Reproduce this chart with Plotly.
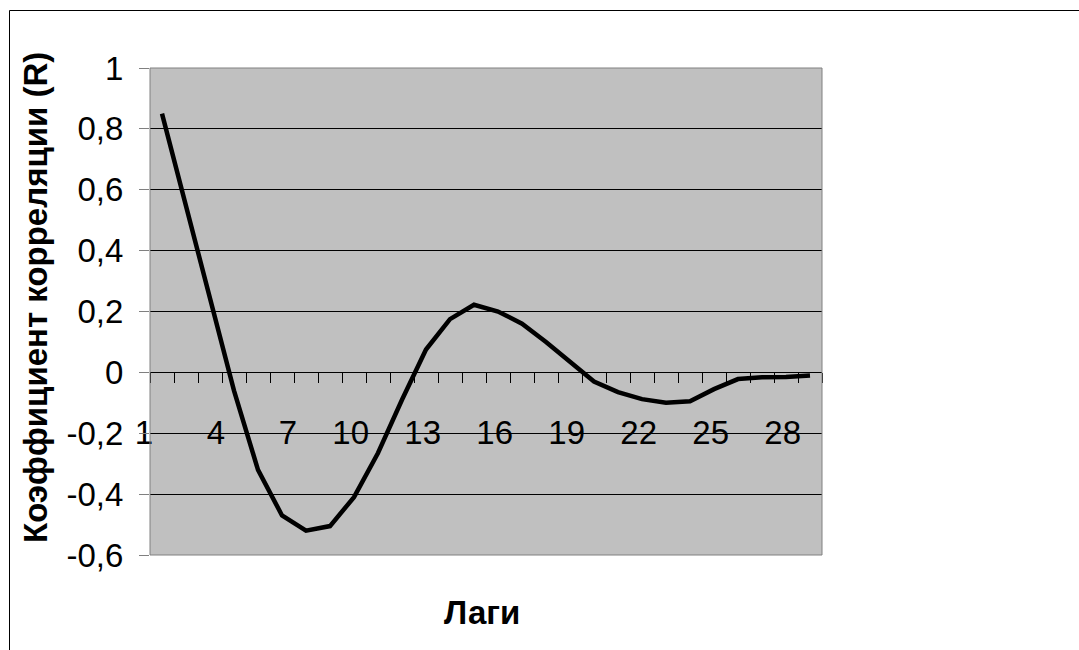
import plotly.graph_objects as go

# Data
lags = list(range(1, 29))
r_values = [0.85, 0.55, 0.25, -0.06, -0.32, -0.47, -0.52, -0.505, -0.41, -0.265,
            -0.09, 0.075, 0.175, 0.222, 0.20, 0.16, 0.10, 0.035, -0.03, -0.065,
            -0.088, -0.10, -0.095, -0.055, -0.022, -0.016, -0.015, -0.01]
x_tick_labels = [1, 4, 7, 10, 13, 16, 19, 22, 25, 28]
y_tick_values = [-0.6, -0.4, -0.2, 0, 0.2, 0.4, 0.6, 0.8, 1]
y_tick_text = ["-0,6", "-0,4", "-0,2", "0", "0,2", "0,4", "0,6", "0,8", "1"]
y_title = "Коэффициент корреляции (R)"
x_title = "Лаги"

FONT = "Liberation Sans, Arial, sans-serif"
W, H = 1079, 650
L, R, T, B = 150, 257, 68, 95
pw, ph = W - L - R, H - T - B
y_min, y_max = -0.6, 1.0

def px_x(p):
    return (p - L) / pw

def px_y(p):
    return 1 - (p - T) / ph

fig = go.Figure()
fig.add_trace(go.Scatter(
    x=lags, y=r_values, mode="lines",
    line=dict(color="black", width=4.5),
    showlegend=False, hoverinfo="skip",
))

zero_pos = (0 - y_min) / (y_max - y_min)

fig.update_layout(
    width=W, height=H,
    margin=dict(l=L, r=R, t=T, b=B, pad=0),
    paper_bgcolor="white",
    plot_bgcolor="#C0C0C0",
    font=dict(family=FONT, size=33, color="black"),
    xaxis=dict(
        range=[0.5, len(lags) + 0.5],
        anchor="free", position=zero_pos,
        showgrid=False, zeroline=False,
        showline=True, linecolor="#000000", linewidth=1,
        tickmode="array",
        tickvals=[v - 0.5 for v in x_tick_labels],
        ticktext=[str(v) for v in x_tick_labels],
        ticks="outside", ticklen=10, tickcolor="#000000", tickwidth=1,
        ticklabelposition="outside left",
        ticklabelstandoff=31,
        ticklabelshift=4,
        tickfont=dict(family=FONT, size=33, color="black"),
        minor=dict(ticks="outside", ticklen=10, tickcolor="#000000",
                   tick0=0.5, dtick=1, showgrid=False),
    ),
    yaxis=dict(
        range=[y_min, y_max],
        tickmode="array",
        tickvals=y_tick_values, ticktext=y_tick_text,
        showgrid=True, gridcolor="#000000", gridwidth=1,
        zeroline=False,
        showline=False,
        ticks="outside", ticklen=10, tickcolor="#808080",
        ticklabelstandoff=9,
        tickfont=dict(family=FONT, size=33, color="black"),
    ),
    shapes=[
        # plot area border
        dict(type="rect", xref="paper", yref="paper", x0=0, y0=0, x1=1, y1=1,
             line=dict(color="#808080", width=1), fillcolor="rgba(0,0,0,0)", layer="above"),
        # outer chart border
        dict(type="rect", xref="paper", yref="paper",
             x0=px_x(9.5), y0=px_y(700), x1=px_x(1150), y1=px_y(10.5),
             line=dict(color="#000000", width=1), fillcolor="rgba(0,0,0,0)", layer="below"),
    ],
    annotations=[
        dict(text=f"<b>{y_title}</b>", xref="paper", yref="paper",
             x=px_x(35), y=px_y(298), textangle=-90, showarrow=False,
             xanchor="center", yanchor="middle",
             font=dict(family=FONT, size=33, color="black")),
        dict(text=f"<b>{x_title}</b>", xref="paper", yref="paper",
             x=px_x(482), y=px_y(612), showarrow=False,
             xanchor="center", yanchor="middle",
             font=dict(family=FONT, size=33, color="black")),
    ],
)

fig.write_html("out.html")
